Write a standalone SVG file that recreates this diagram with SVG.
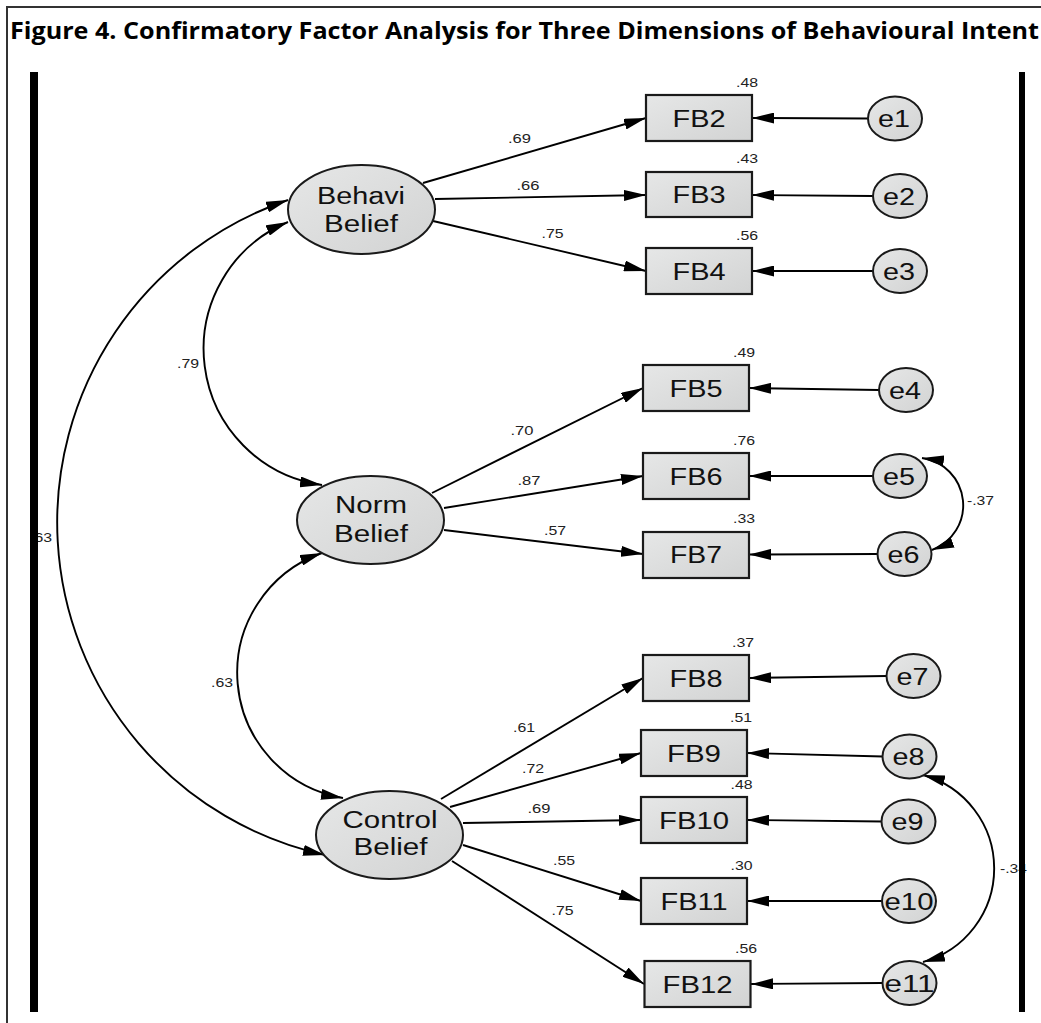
<svg xmlns="http://www.w3.org/2000/svg" width="1041" height="1023" viewBox="0 0 1041 1023">
  <defs>
    <linearGradient id="shade" x1="0" y1="0" x2="1" y2="1">
      <stop offset="0" stop-color="#e6e7e7"/>
      <stop offset="1" stop-color="#d2d3d3"/>
    </linearGradient>
    <marker id="arrow" markerUnits="userSpaceOnUse" viewBox="0 0 22 11" markerWidth="22" markerHeight="11" refX="22" refY="5.5" orient="auto-start-reverse">
      <path d="M0,0 L22,5.5 L0,11 z" fill="#000"/>
    </marker>
    <style>
      .frame { stroke: #333; stroke-width: 2; fill: none; }
      .bar { fill: #000; }
      .title { font-family: "Open Sans", "Liberation Sans", Arial, sans-serif; font-weight: bold; font-size: 22.5px; fill: #000; }
      .latent { fill: url(#shade); stroke: #1a1a1a; stroke-width: 2; }
      .obs { fill: url(#shade); stroke: #1a1a1a; stroke-width: 2.2; }
      .err { fill: url(#shade); stroke: #1a1a1a; stroke-width: 2; }
      .lbl { font-family: "Liberation Sans", Arial, sans-serif; font-size: 23px; fill: #111; text-anchor: middle; }
      .coef { font-family: "Liberation Sans", Arial, sans-serif; font-size: 13px; fill: #222; text-anchor: middle; }
      .path { stroke: #000; stroke-width: 1.9; fill: none; marker-end: url(#arrow); }
      .cov { stroke: #000; stroke-width: 1.9; fill: none; marker-start: url(#arrow); marker-end: url(#arrow); }
    </style>
  </defs>

  <rect width="1041" height="1023" fill="#fff"/>

  <!-- page frame and caption -->
  <line class="frame" x1="7" y1="7" x2="1041" y2="7"/>
  <line class="frame" x1="7" y1="6" x2="7" y2="1023"/>
  <text class="title" x="10" y="39" textLength="1029" lengthAdjust="spacingAndGlyphs">Figure 4. Confirmatory Factor Analysis for Three Dimensions of Behavioural Intent</text>

  <!-- connectors -->
  <g id="connectors">
    <!-- factor loadings -->
    <path class="path" d="M423,183 L646,118"/>
    <path class="path" d="M435,199 L646,195"/>
    <path class="path" d="M433,221 L646,271"/>
    <path class="path" d="M432,493 L643,388"/>
    <path class="path" d="M444,508 L643,476"/>
    <path class="path" d="M444,530 L643,554"/>
    <path class="path" d="M441,799 L643,678"/>
    <path class="path" d="M450,807 L641,753"/>
    <path class="path" d="M463,823 L641,820"/>
    <path class="path" d="M463,845 L641,901"/>
    <path class="path" d="M452,861 L644,984"/>
    <!-- error terms -->
    <path class="path" d="M868,118.5 L752,118"/>
    <path class="path" d="M873,196 L752,195"/>
    <path class="path" d="M873,271 L752,271"/>
    <path class="path" d="M879,390 L749,388"/>
    <path class="path" d="M873,476 L749,476"/>
    <path class="path" d="M877,554 L749,554.5"/>
    <path class="path" d="M887,676 L749,678"/>
    <path class="path" d="M883,756.5 L747,753"/>
    <path class="path" d="M882,821.5 L747,820"/>
    <path class="path" d="M882,901 L747,901"/>
    <path class="path" d="M883,983 L751,984"/>
    <!-- covariances -->
    <path class="cov" d="M288,222 A137.5,137.5 0 0 0 322,485"/>
    <path class="cov" d="M322,553 A127,127 0 0 0 343,798"/>
    <path class="cov" d="M288,200 A340.5,340.5 0 0 0 325,855"/>
    <path class="cov" d="M922,458 A47.7,47.7 0 0 1 932,550"/>
    <path class="cov" d="M923,775 A97,97 0 0 1 923,962"/>

    <!-- coefficients on paths -->
    <text class="coef" x="519.5" y="143" textLength="23" lengthAdjust="spacingAndGlyphs">.69</text>
    <text class="coef" x="528" y="190" textLength="23" lengthAdjust="spacingAndGlyphs">.66</text>
    <text class="coef" x="552.5" y="238" textLength="22" lengthAdjust="spacingAndGlyphs">.75</text>
    <text class="coef" x="188" y="368" textLength="22" lengthAdjust="spacingAndGlyphs">.79</text>
    <text class="coef" x="522" y="435" textLength="23" lengthAdjust="spacingAndGlyphs">.70</text>
    <text class="coef" x="529" y="485" textLength="23" lengthAdjust="spacingAndGlyphs">.87</text>
    <text class="coef" x="555" y="535" textLength="22" lengthAdjust="spacingAndGlyphs">.57</text>
    <text class="coef" x="222" y="686.5" textLength="22" lengthAdjust="spacingAndGlyphs">.63</text>
    <text class="coef" x="52" y="541.5" style="text-anchor:end" textLength="22" lengthAdjust="spacingAndGlyphs">.63</text>
    <text class="coef" x="524" y="731.5" textLength="22" lengthAdjust="spacingAndGlyphs">.61</text>
    <text class="coef" x="533" y="773" textLength="22" lengthAdjust="spacingAndGlyphs">.72</text>
    <text class="coef" x="539" y="813" textLength="23" lengthAdjust="spacingAndGlyphs">.69</text>
    <text class="coef" x="564" y="865" textLength="22" lengthAdjust="spacingAndGlyphs">.55</text>
    <text class="coef" x="562.5" y="915" textLength="22" lengthAdjust="spacingAndGlyphs">.75</text>
    <text class="coef" x="967" y="505" style="text-anchor:start" textLength="27" lengthAdjust="spacingAndGlyphs">-.37</text>
    <text class="coef" x="1000" y="873" style="text-anchor:start" textLength="27" lengthAdjust="spacingAndGlyphs">-.34</text>
  </g>

  <!-- latent factors -->
  <g id="behavi-belief">
    <ellipse class="latent" cx="361.5" cy="209.5" rx="73.5" ry="44.5"/>
    <text class="lbl" x="361" y="204" textLength="88" lengthAdjust="spacingAndGlyphs">Behavi</text>
    <text class="lbl" x="361" y="231.5" textLength="74" lengthAdjust="spacingAndGlyphs">Belief</text>
  </g>
  <g id="norm-belief">
    <ellipse class="latent" cx="370.5" cy="520" rx="73.5" ry="44"/>
    <text class="lbl" x="371" y="513" textLength="72" lengthAdjust="spacingAndGlyphs">Norm</text>
    <text class="lbl" x="371" y="541.5" textLength="74" lengthAdjust="spacingAndGlyphs">Belief</text>
  </g>
  <g id="control-belief">
    <ellipse class="latent" cx="389.5" cy="835" rx="73.5" ry="44"/>
    <text class="lbl" x="390" y="827.5" textLength="95" lengthAdjust="spacingAndGlyphs">Control</text>
    <text class="lbl" x="390.5" y="855" textLength="74" lengthAdjust="spacingAndGlyphs">Belief</text>
  </g>

  <!-- observed items -->
  <g id="FB2"><rect class="obs" x="646" y="95" width="106" height="46"/><text class="lbl" x="699" y="126.5" style="font-size:24px" textLength="53" lengthAdjust="spacingAndGlyphs">FB2</text><text class="coef" x="747" y="86.5" textLength="22" lengthAdjust="spacingAndGlyphs">.48</text></g>
  <g id="FB3"><rect class="obs" x="646" y="172" width="106" height="45"/><text class="lbl" x="699" y="203" style="font-size:24px" textLength="53" lengthAdjust="spacingAndGlyphs">FB3</text><text class="coef" x="747" y="163" textLength="22" lengthAdjust="spacingAndGlyphs">.43</text></g>
  <g id="FB4"><rect class="obs" x="646" y="248" width="106" height="46"/><text class="lbl" x="699" y="279.5" style="font-size:24px" textLength="53" lengthAdjust="spacingAndGlyphs">FB4</text><text class="coef" x="747" y="240" textLength="22" lengthAdjust="spacingAndGlyphs">.56</text></g>
  <g id="FB5"><rect class="obs" x="643" y="365" width="106" height="46"/><text class="lbl" x="696" y="396.5" style="font-size:24px" textLength="53" lengthAdjust="spacingAndGlyphs">FB5</text><text class="coef" x="744" y="356.5" textLength="22" lengthAdjust="spacingAndGlyphs">.49</text></g>
  <g id="FB6"><rect class="obs" x="643" y="453" width="106" height="46"/><text class="lbl" x="696" y="484.5" style="font-size:24px" textLength="53" lengthAdjust="spacingAndGlyphs">FB6</text><text class="coef" x="744" y="445" textLength="22" lengthAdjust="spacingAndGlyphs">.76</text></g>
  <g id="FB7"><rect class="obs" x="643" y="532" width="106" height="46"/><text class="lbl" x="696" y="563" style="font-size:24px" textLength="52" lengthAdjust="spacingAndGlyphs">FB7</text><text class="coef" x="744" y="522.5" textLength="22" lengthAdjust="spacingAndGlyphs">.33</text></g>
  <g id="FB8"><rect class="obs" x="643" y="655" width="106" height="46"/><text class="lbl" x="696" y="686.5" style="font-size:24px" textLength="53" lengthAdjust="spacingAndGlyphs">FB8</text><text class="coef" x="743" y="646.5" textLength="22" lengthAdjust="spacingAndGlyphs">.37</text></g>
  <g id="FB9"><rect class="obs" x="641" y="730" width="106" height="46"/><text class="lbl" x="694" y="761.5" style="font-size:24px" textLength="54" lengthAdjust="spacingAndGlyphs">FB9</text><text class="coef" x="741" y="721.5" textLength="22" lengthAdjust="spacingAndGlyphs">.51</text></g>
  <g id="FB10"><rect class="obs" x="641" y="797" width="106" height="46"/><text class="lbl" x="694" y="828.5" style="font-size:24px" textLength="70" lengthAdjust="spacingAndGlyphs">FB10</text><text class="coef" x="741.5" y="788.5" textLength="22" lengthAdjust="spacingAndGlyphs">.48</text></g>
  <g id="FB11"><rect class="obs" x="641" y="878" width="106" height="46"/><text class="lbl" x="694" y="909.5" style="font-size:24px" textLength="67" lengthAdjust="spacingAndGlyphs">FB11</text><text class="coef" x="741.5" y="870" textLength="22" lengthAdjust="spacingAndGlyphs">.30</text></g>
  <g id="FB12"><rect class="obs" x="644.5" y="961" width="106" height="46"/><text class="lbl" x="697.5" y="992.5" style="font-size:24px" textLength="70" lengthAdjust="spacingAndGlyphs">FB12</text><text class="coef" x="746" y="952.5" textLength="22" lengthAdjust="spacingAndGlyphs">.56</text></g>

  <!-- error terms -->
  <g id="e1"><ellipse class="err" cx="895" cy="118.5" rx="27" ry="22"/><text class="lbl" x="894" y="127" style="font-size:24px" textLength="32" lengthAdjust="spacingAndGlyphs">e1</text></g>
  <g id="e2"><ellipse class="err" cx="900" cy="196" rx="27" ry="22"/><text class="lbl" x="899" y="204.5" style="font-size:24px" textLength="32" lengthAdjust="spacingAndGlyphs">e2</text></g>
  <g id="e3"><ellipse class="err" cx="900" cy="271" rx="27" ry="22"/><text class="lbl" x="899" y="279.5" style="font-size:24px" textLength="32" lengthAdjust="spacingAndGlyphs">e3</text></g>
  <g id="e4"><ellipse class="err" cx="906" cy="390" rx="27" ry="22"/><text class="lbl" x="905" y="398.5" style="font-size:24px" textLength="32" lengthAdjust="spacingAndGlyphs">e4</text></g>
  <g id="e5"><ellipse class="err" cx="900" cy="476" rx="27" ry="22"/><text class="lbl" x="899" y="484.5" style="font-size:24px" textLength="32" lengthAdjust="spacingAndGlyphs">e5</text></g>
  <g id="e6"><ellipse class="err" cx="904.5" cy="554" rx="27" ry="22"/><text class="lbl" x="903.5" y="562.5" style="font-size:24px" textLength="32" lengthAdjust="spacingAndGlyphs">e6</text></g>
  <g id="e7"><ellipse class="err" cx="913.5" cy="676" rx="27" ry="22"/><text class="lbl" x="912.5" y="684.5" style="font-size:24px" textLength="32" lengthAdjust="spacingAndGlyphs">e7</text></g>
  <g id="e8"><ellipse class="err" cx="909.5" cy="756.5" rx="27" ry="22"/><text class="lbl" x="908.5" y="765" style="font-size:24px" textLength="32" lengthAdjust="spacingAndGlyphs">e8</text></g>
  <g id="e9"><ellipse class="err" cx="908.5" cy="821.5" rx="27" ry="22"/><text class="lbl" x="907.5" y="830" style="font-size:24px" textLength="32" lengthAdjust="spacingAndGlyphs">e9</text></g>
  <g id="e10"><ellipse class="err" cx="909" cy="901" rx="27" ry="22"/><text class="lbl" x="909" y="909.5" style="font-size:24px" textLength="49" lengthAdjust="spacingAndGlyphs">e10</text></g>
  <g id="e11"><ellipse class="err" cx="909.5" cy="983" rx="27" ry="22"/><text class="lbl" x="909.5" y="991.5" style="font-size:24px" textLength="50" lengthAdjust="spacingAndGlyphs">e11</text></g>

  <!-- heavy side rules of the figure panel -->
  <rect class="bar" x="30" y="72" width="8" height="940"/>
  <rect class="bar" x="1019" y="72" width="6" height="940"/>
</svg>
